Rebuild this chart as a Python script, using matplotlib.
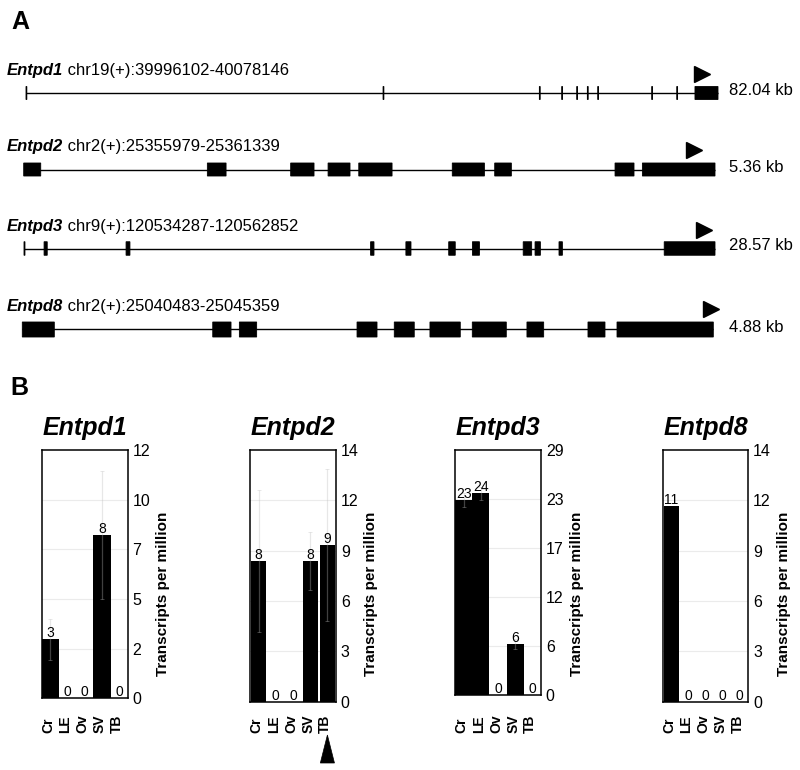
import matplotlib
matplotlib.use('Agg')
import matplotlib.pyplot as plt
from matplotlib.patches import Rectangle, Polygon
import matplotlib.transforms as mtransforms
import numpy as np

plt.rcParams['font.family'] = ['Liberation Sans', 'DejaVu Sans']

W, H, DPI = 800, 770, 100

# ---------------- Panel A data (gene structures, positions in kb from gene start) ----------------
gene_names = ['Entpd1', 'Entpd2', 'Entpd3', 'Entpd8']
gene_loci = ['chr19(+):39996102-40078146', 'chr2(+):25355979-25361339',
             'chr9(+):120534287-120562852', 'chr2(+):25040483-25045359']
gene_lengths_kb = [82.04, 5.36, 28.57, 4.88]
gene_length_labels = ['82.04 kb', '5.36 kb', '28.57 kb', '4.88 kb']

entpd1_exon_starts = [0.00, 42.33, 60.86, 63.51, 65.29, 66.55, 67.78, 74.18, 77.15, 79.31]
entpd1_exon_ends   = [0.10, 42.43, 60.96, 63.61, 65.39, 66.65, 67.88, 74.28, 77.25, 82.04]
entpd2_exon_starts = [0.000, 1.424, 2.070, 2.360, 2.598, 3.323, 3.652, 4.585, 4.797]
entpd2_exon_ends   = [0.132, 1.569, 2.251, 2.530, 2.856, 3.572, 3.781, 4.732, 5.360]
entpd3_exon_starts = [0.00, 0.83, 4.22, 14.33, 15.79, 17.56, 18.54, 20.64, 21.13, 22.12, 26.47]
entpd3_exon_ends   = [0.04, 0.96, 4.38, 14.47, 16.00, 17.83, 18.83, 20.99, 21.35, 22.26, 28.57]
entpd8_exon_starts = [0.000, 1.345, 1.533, 2.364, 2.627, 2.879, 3.178, 3.564, 3.995, 4.200]
entpd8_exon_ends   = [0.226, 1.474, 1.655, 2.505, 2.768, 3.093, 3.418, 3.682, 4.115, 4.880]

exon_starts = [entpd1_exon_starts, entpd2_exon_starts, entpd3_exon_starts, entpd8_exon_starts]
exon_ends = [entpd1_exon_ends, entpd2_exon_ends, entpd3_exon_ends, entpd8_exon_ends]

# ---------------- Panel B data (transcripts per million) ----------------
tissues = ['Cr', 'LE', 'Ov', 'SV', 'TB']
entpd1_tpm = [2.85, 0, 0, 7.9, 0]
entpd1_err = [1.0, 0, 0, 3.1, 0]
entpd2_tpm = [8.05, 0, 0, 8.05, 8.96]
entpd2_err = [4.05, 0, 0, 1.65, 4.35]
entpd3_tpm = [23.1, 23.87, 0, 6.04, 0]
entpd3_err = [0.8, 0.8, 0, 0.6, 0]
entpd8_tpm = [11.2, 0, 0, 0, 0]
entpd8_err = [0.0, 0, 0, 0, 0]
tpm_values = [entpd1_tpm, entpd2_tpm, entpd3_tpm, entpd8_tpm]
tpm_errors = [entpd1_err, entpd2_err, entpd3_err, entpd8_err]
y_max = [12, 14.4, 29, 14.4]
ytick_labels = [['0', '2', '5', '7', '10', '12'],
                ['0', '3', '6', '9', '12', '14'],
                ['0', '6', '12', '17', '23', '29'],
                ['0', '3', '6', '9', '12', '14']]

# ---------------- layout (pixels) ----------------
track_x = [(26, 718), (23.7, 715), (24, 715), (22.3, 713.3)]
track_y = [93, 169.5, 248.5, 329.5]
label_baseline = [74.5, 151.5, 230.5, 311]
exon_h = [13, 13, 13.5, 15]
arrow_frac = [0.9776, 0.9703, 0.9848, 0.9967]
arrow_dy = [19.3, 20, 18.8, 20.7]

bar_boxes = [(41.7, 450, 127.7, 698.3), (250, 450, 336, 701.7),
             (455, 450, 541, 695), (662.7, 450, 748.3, 701.7)]
bar_widths = [1.0, 0.88, 1.0, 0.9]

fig = plt.figure(figsize=(W / DPI, H / DPI), dpi=DPI)


def fy(ypx):
    return 1 - ypx / H


# ---- Panel A ----
fig.text(11 / W, fy(29), 'A', fontsize=18, fontweight='bold', va='baseline')
for gi, name in enumerate(gene_names):
    x0, x1 = track_x[gi]
    yc = track_y[gi]
    h = 50
    ax = fig.add_axes([x0 / W, fy(yc + h / 2), (x1 - x0) / W, h / H])
    L = gene_lengths_kb[gi]
    ax.set_xlim(0, L)
    ax.set_ylim(-h / 2, h / 2)
    ax.axis('off')
    ax.plot([0, L], [0, 0], color='black', lw=1.0, solid_capstyle='butt', clip_on=False)
    eh = exon_h[gi]
    for s, e in zip(exon_starts[gi], exon_ends[gi]):
        ax.add_patch(Rectangle((s, -eh / 2), e - s, eh, facecolor='black',
                               edgecolor='black', lw=0.6, clip_on=False, snap=False))
    ax.plot([arrow_frac[gi] * L], [arrow_dy[gi]], marker='>', ms=11.5, color='black',
            linestyle='none', clip_on=False)
    t1 = fig.text(7 / W, fy(label_baseline[gi]), name, fontsize=12, fontweight='bold',
                  style='italic', va='baseline', ha='left')
    ax.annotate(' ' + gene_loci[gi], xy=(1, 0), xycoords=t1, va='bottom', ha='left',
                fontsize=12, annotation_clip=False)
    fig.text(729 / W, fy(yc - 2.5), gene_length_labels[gi], fontsize=12,
             va='center', ha='left')

# ---- Panel B ----
fig.text(10 / W, fy(395), 'B', fontsize=18, fontweight='bold', va='baseline')
x = np.arange(len(tissues))
for gi, name in enumerate(gene_names):
    l, t, r, b = bar_boxes[gi]
    ax = fig.add_axes([l / W, fy(b), (r - l) / W, (b - t) / H])
    ax.set_xlim(-0.5, len(tissues) - 0.5)
    ax.set_ylim(0, y_max[gi])
    ticks = np.linspace(0, y_max[gi], len(ytick_labels[gi]))
    for tv in ticks[1:-1]:
        ax.axhline(tv, color='#ebebeb', lw=0.8, zorder=0)
    vals = tpm_values[gi]
    errs = tpm_errors[gi]
    ax.bar(x, vals, width=bar_widths[gi], color='black', zorder=2)
    for i, (v, e) in enumerate(zip(vals, errs)):
        if e > 0:
            ax.errorbar([i], [v], yerr=[e], color='#bdbdbd', alpha=0.35, lw=0.9,
                        capsize=1.5, capthick=0.7, zorder=3)
        ax.annotate(f'{round(v)}', xy=(i, v), xytext=(0, 2), textcoords='offset pixels',
                    ha='center', va='baseline', fontsize=10, zorder=4)
    ax.yaxis.tick_right()
    ax.set_yticks(ticks)
    ax.set_yticklabels(ytick_labels[gi], fontsize=11.5)
    ax.tick_params(axis='y', length=0, pad=3.5)
    ax.set_xticks([])
    for sp in ax.spines.values():
        sp.set_linewidth(1.1)
        sp.set_color('black')
    # x category labels (rotated, start-aligned at the bottom)
    tr = mtransforms.blended_transform_factory(ax.transData, fig.transFigure)
    for i, lab in enumerate(tissues):
        ax.text(i - 0.12, fy(733), lab, transform=tr, rotation=90, ha='center',
                va='bottom', fontsize=10, fontweight='bold', clip_on=False)
    ax.text(1 + 35.5 / (r - l), 1 - (594 - t) / (b - t), 'Transcripts per million',
            transform=ax.transAxes, rotation=90, ha='center', va='center',
            fontsize=11, fontweight='bold')
    ax.text(0.5, 1 + 15 / (b - t), name, transform=ax.transAxes, ha='center',
            va='baseline', fontsize=18, fontweight='bold', style='italic')
    if name == 'Entpd2':
        poly = Polygon([(4 - 0.41, fy(763)), (4 + 0.41, fy(763)), (4, fy(735))],
                       closed=True, facecolor='black', edgecolor='black', lw=0.5,
                       transform=tr, clip_on=False)
        ax.add_patch(poly)

fig.savefig('out.png', dpi=DPI)
